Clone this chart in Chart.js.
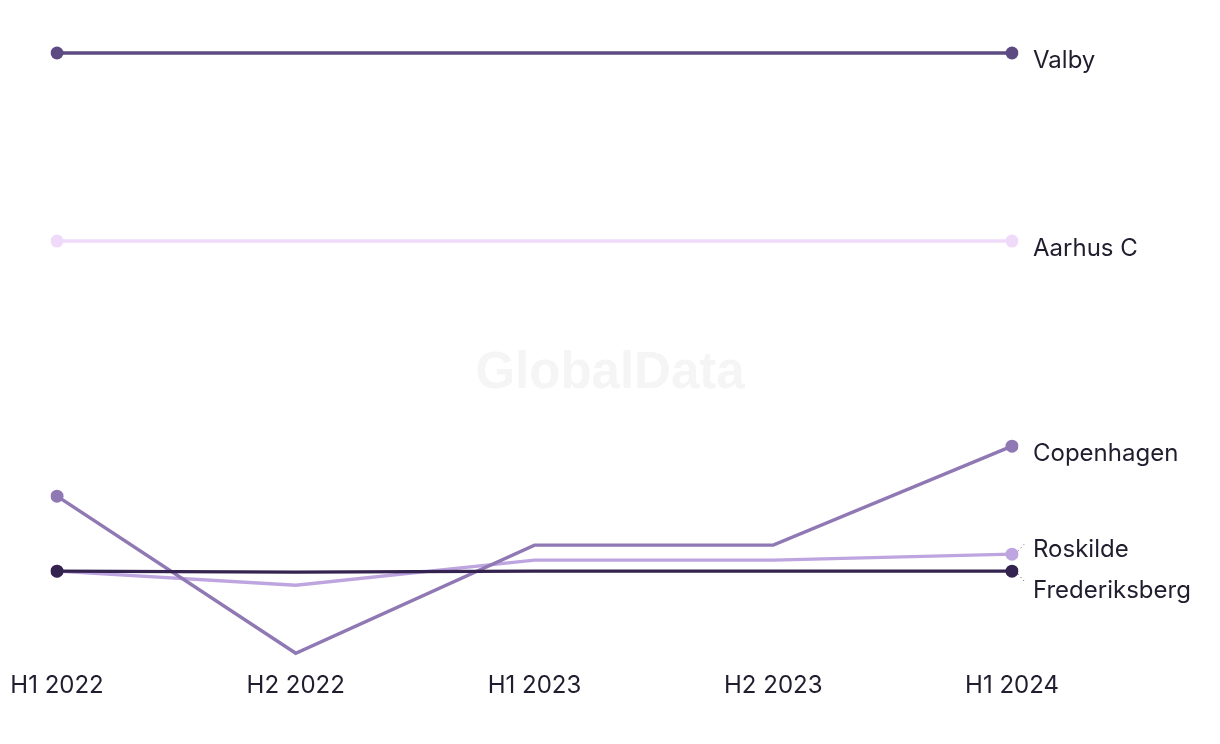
<!DOCTYPE html>
<html>
<head>
<meta charset="utf-8">
<script src="https://cdn.jsdelivr.net/npm/chart.js@4/dist/chart.umd.min.js"></script>
<style>
html,body{margin:0;padding:0;background:#fff;}
#wrap{position:relative;width:1220px;height:744px;}
</style>
</head>
<body>
<div id="wrap"><canvas id="c" width="1220" height="744"></canvas></div>
<script>
const categories = ["H1 2022", "H2 2022", "H1 2023", "H2 2023", "H1 2024"];
const seriesNames = ["Frederiksberg", "Copenhagen", "Roskilde", "Aarhus C", "Valby"];
const frederiksberg = [12.9, 12.8, 12.9, 12.9, 12.9];
const copenhagen = [20.4, 4.7, 15.5, 15.5, 25.4];
const roskilde = [12.9, 11.5, 14.0, 14.0, 14.6];
const aarhusC = [45.9, 45.9, 45.9, 45.9, 45.9];
const valby = [64.7, 64.7, 64.7, 64.7, 64.7];
const seriesColors = ["#35234f", "#8f78b3", "#bea5e0", "#efdafa", "#5e4a82"];
const seriesValues = [frederiksberg, copenhagen, roskilde, aarhusC, valby];

const FONT = "Inter, 'Noto Sans', sans-serif";
const TEXT = "#1f1d2e";

const datasets = seriesNames.map((n, i) => ({
  label: n,
  data: seriesValues[i],
  borderColor: seriesColors[i],
  backgroundColor: seriesColors[i],
  borderWidth: 3.4,
  pointRadius: seriesValues[i].map((v, j) => (j === 0 || j === seriesValues[i].length - 1) ? 6.5 : 0),
  pointHoverRadius: 6.5,
  pointBorderWidth: 0,
  tension: 0,
  fill: false
}));

const watermark = {
  id: 'watermark',
  beforeDraw(chart) {
    const ctx = chart.ctx;
    ctx.save();
    ctx.font = "bold 51px 'Liberation Sans', Arial, sans-serif";
    ctx.fillStyle = "#f5f5f5";
    ctx.textAlign = "center";
    ctx.textBaseline = "middle";
    ctx.fillText("GlobalData", 610, 374);
    ctx.restore();
  }
};

const endLabels = {
  id: 'endLabels',
  afterDatasetsDraw(chart) {
    const ctx = chart.ctx;
    const items = [];
    chart.data.datasets.forEach((ds, i) => {
      const meta = chart.getDatasetMeta(i);
      const pt = meta.data[meta.data.length - 1];
      items.push({label: ds.label, px: pt.x, py: pt.y, y: pt.y + 8});
    });
    items.sort((a, b) => a.y - b.y);
    const gap = 41;
    for (let iter = 0; iter < 20; iter++) {
      let moved = false;
      for (let k = 0; k < items.length - 1; k++) {
        const a = items[k], b = items[k + 1];
        const d = b.y - a.y;
        if (d < gap - 0.01) {
          const shift = (gap - d) / 2;
          a.y -= shift; b.y += shift; moved = true;
        }
      }
      if (!moved) break;
    }
    ctx.save();
    ctx.font = "24px " + FONT;
    ctx.fillStyle = TEXT;
    ctx.textAlign = "left";
    ctx.textBaseline = "middle";
    items.forEach(it => {
      const tx = it.px + 21;
      if (Math.abs(it.y - (it.py + 8)) > 2) {
        ctx.save();
        ctx.strokeStyle = "#555";
        ctx.lineWidth = 1;
        ctx.setLineDash([1, 3]);
        const dir = it.y < it.py ? -1 : 1;
        ctx.beginPath();
        ctx.moveTo(it.px + 6, it.py + dir * 3);
        ctx.lineTo(tx - 7, it.py + dir * 12);
        ctx.stroke();
        ctx.restore();
      }
      ctx.fillText(it.label, tx, it.y);
    });
    ctx.restore();
  }
};

new Chart(document.getElementById('c'), {
  type: 'line',
  data: { labels: categories, datasets },
  options: {
    responsive: false,
    animation: false,
    events: [],
    layout: { padding: { left: 57, right: 208, top: 30, bottom: 38 } },
    plugins: { legend: { display: false }, tooltip: { enabled: false } },
    scales: {
      x: {
        offset: false,
        grid: { display: false, drawTicks: false },
        border: { display: false },
        ticks: { color: TEXT, font: { family: FONT, size: 24 }, padding: 6, maxRotation: 0, autoSkip: false }
      },
      y: {
        display: false,
        min: 3.5,
        max: 67
      }
    }
  },
  plugins: [watermark, endLabels]
});
</script>
</body>
</html>
